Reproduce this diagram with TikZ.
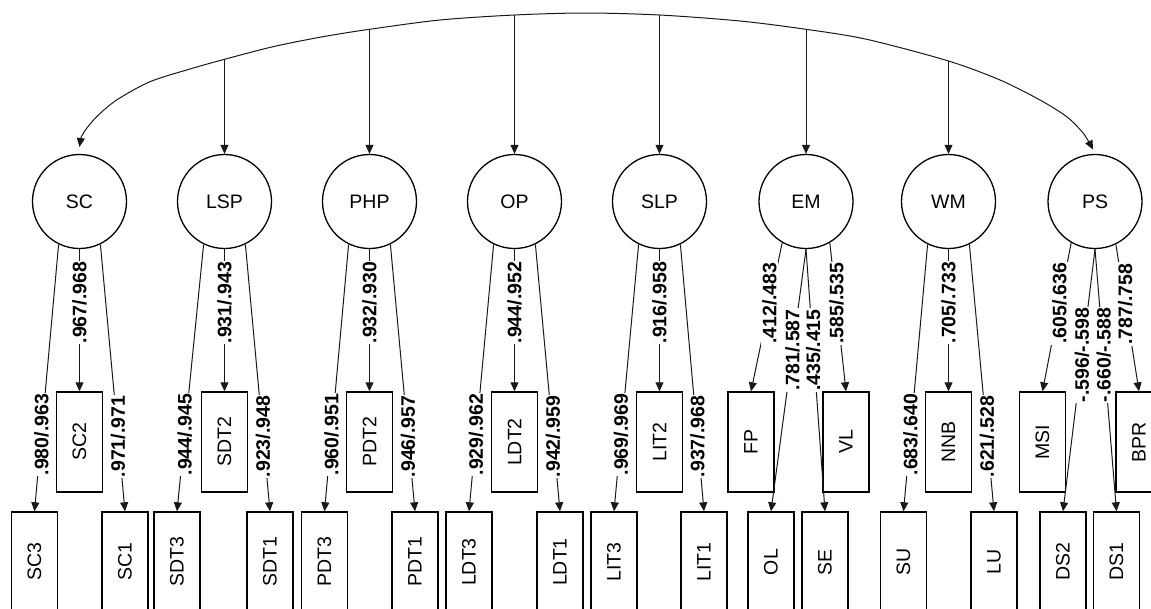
\documentclass[tikz,border=0pt]{standalone}
\usepackage{fontspec}
\setmainfont{Liberation Sans}
\usetikzlibrary{arrows.meta}
\begin{document}
\begin{tikzpicture}[x=1pt,y=-1pt,
  lat/.style={circle,draw,line width=1.3pt,minimum size=94pt,inner sep=0pt,font=\fontsize{19.5}{22}\selectfont},
  obs/.style={rectangle,draw,line width=1.4pt,minimum width=46pt,minimum height=100pt,inner sep=0pt,font=\fontsize{19.5}{22}\selectfont},
  tipa/.tip={Triangle[length=9pt,width=8pt]},
  conn/.style={line width=1pt,draw=black!90,-tipa},
  lab/.style={fill=white,inner sep=1pt,rotate=90,font=\fontsize{19.5}{22}\selectfont\bfseries}]
\useasboundingbox (0,0) rectangle (1151,608);

% latent variables
\node[lat] (SC)  at (79.5,201.5)  {SC};
\node[lat] (LSP) at (224.5,201.5) {LSP};
\node[lat] (PHP) at (369.5,201.5) {PHP};
\node[lat] (OP)  at (514.5,201.5) {OP};
\node[lat] (SLP) at (659.5,201.5) {SLP};
\node[lat] (EM)  at (806,201.5)   {EM};
\node[lat] (WM)  at (948.5,201.5) {WM};
\node[lat] (PS)  at (1095,201.5)  {PS};

% indicators
\node[obs] (SC3)  at (34.5,562)  {\rotatebox{90}{SC3}};
\node[obs] (SC2)  at (79.5,442)  {\rotatebox{90}{SC2}};
\node[obs] (SC1)  at (125,562)   {\rotatebox{90}{SC1}};
\node[obs] (SDT3) at (177,562)   {\rotatebox{90}{SDT3}};
\node[obs] (SDT2) at (224.5,442) {\rotatebox{90}{SDT2}};
\node[obs] (SDT1) at (270,562)   {\rotatebox{90}{SDT1}};
\node[obs] (PDT3) at (324.5,562) {\rotatebox{90}{PDT3}};
\node[obs] (PDT2) at (369.5,442) {\rotatebox{90}{PDT2}};
\node[obs] (PDT1) at (415,562)   {\rotatebox{90}{PDT1}};
\node[obs] (LDT3) at (469,562)   {\rotatebox{90}{LDT3}};
\node[obs] (LDT2) at (514.5,442) {\rotatebox{90}{LDT2}};
\node[obs] (LDT1) at (560,562)   {\rotatebox{90}{LDT1}};
\node[obs] (LIT3) at (614,562)   {\rotatebox{90}{LIT3}};
\node[obs] (LIT2) at (659.5,442) {\rotatebox{90}{LIT2}};
\node[obs] (LIT1) at (704,562)   {\rotatebox{90}{LIT1}};
\node[obs] (FP)   at (751,442)   {\rotatebox{90}{FP}};
\node[obs] (OL)   at (771,562)   {\rotatebox{90}{OL}};
\node[obs] (SE)   at (825,562)   {\rotatebox{90}{SE}};
\node[obs] (VL)   at (846,442)   {\rotatebox{90}{VL}};
\node[obs] (SU)   at (903.5,562) {\rotatebox{90}{SU}};
\node[obs] (NNB)  at (948.5,442) {\rotatebox{90}{NNB}};
\node[obs] (LU)   at (994,562)   {\rotatebox{90}{LU}};
\node[obs] (MSI)  at (1042.5,442){\rotatebox{90}{MSI}};
\node[obs] (DS2)  at (1063,562)  {\rotatebox{90}{DS2}};
\node[obs] (DS1)  at (1116.5,562){\rotatebox{90}{DS1}};
\node[obs] (BPR)  at (1139,442)  {\rotatebox{90}{BPR}};

% top arc
\coordinate (aL) at (79.5,147);
\coordinate (aR) at (1093,149.5);
\coordinate (jLSP) at (224.5,59.3);
\coordinate (jPHP) at (369.5,29.3);
\coordinate (jOP)  at (514.5,15);
\coordinate (jSLP) at (659.5,15);
\coordinate (jEM)  at (806,29.3);
\coordinate (jWM)  at (948.5,61);
\draw[line width=1pt,draw=black!90,tipa-tipa] plot[smooth,tension=0.5] coordinates {
  (aL) (83.3,133.3) (96.7,116.7) (116.7,100) (150,81.7) (190,69) (jLSP)
  (273,46.7) (323,36.7) (jPHP) (440,20) (jOP) (585,13) (jSLP) (740,21)
  (jEM) (866.7,39.3) (jWM) (1000,80) (1040,100) (1066.7,116.7) (1083.3,133.3) (aR)};
\draw[conn] (jLSP) -- (LSP.north);
\draw[conn] (jPHP) -- (PHP.north);
\draw[conn] (jOP)  -- (OP.north);
\draw[conn] (jSLP) -- (SLP.north);
\draw[conn] (jEM)  -- (EM.north);
\draw[conn] (jWM)  -- (WM.north);

% loadings
\draw[conn] (SC.-116) -- node[lab,pos=.713]{.980/.963} (SC3.north);
\draw[conn] (SC.south) -- node[lab,pos=.376]{.967/.968} (SC2.north);
\draw[conn] (SC.-64) -- node[lab,pos=.72]{.971/.971} (SC1.north);

\draw[conn] (LSP.-116) -- node[lab,pos=.713]{.944/.945} (SDT3.north);
\draw[conn] (LSP.south) -- node[lab,pos=.376]{.931/.943} (SDT2.north);
\draw[conn] (LSP.-64) -- node[lab,pos=.72]{.923/.948} (SDT1.north);

\draw[conn] (PHP.-116) -- node[lab,pos=.713]{.960/.951} (PDT3.north);
\draw[conn] (PHP.south) -- node[lab,pos=.376]{.932/.930} (PDT2.north);
\draw[conn] (PHP.-64) -- node[lab,pos=.72]{.946/.957} (PDT1.north);

\draw[conn] (OP.-116) -- node[lab,pos=.713]{.929/.962} (LDT3.north);
\draw[conn] (OP.south) -- node[lab,pos=.376]{.944/.952} (LDT2.north);
\draw[conn] (OP.-64) -- node[lab,pos=.72]{.942/.959} (LDT1.north);

\draw[conn] (SLP.-116) -- node[lab,pos=.713]{.969/.969} (LIT3.north);
\draw[conn] (SLP.south) -- node[lab,pos=.376]{.916/.958} (LIT2.north);
\draw[conn] (SLP.-64) -- node[lab,pos=.72]{.937/.968} (LIT1.north);

\draw[conn] (EM.-120) -- node[lab,pos=.407]{.412/.483} (FP.north);
\draw[conn] (EM.south) -- node[lab,pos=.385]{.781/.587} (OL.north);
\draw[conn] (EM.south) -- node[lab,pos=.385]{.435/.415} (SE.north);
\draw[conn] (EM.-60) -- node[lab,pos=.407]{.585/.535} (VL.north);

\draw[conn] (WM.-116) -- node[lab,pos=.713]{.683/.640} (SU.north);
\draw[conn] (WM.south) -- node[lab,pos=.376]{.705/.733} (NNB.north);
\draw[conn] (WM.-64) -- node[lab,pos=.72]{.621/.528} (LU.north);

\draw[conn] (PS.-120) -- node[lab,pos=.407]{.605/.636} (MSI.north);
\draw[conn] (PS.south) -- node[lab,pos=.404]{-.596/-.598} (DS2.north);
\draw[conn] (PS.south) -- node[lab,pos=.404]{-.660/-.588} (DS1.north);
\draw[conn] (PS.-64) -- node[lab,pos=.407]{.787/.758} (BPR.north);
\end{tikzpicture}
\end{document}
